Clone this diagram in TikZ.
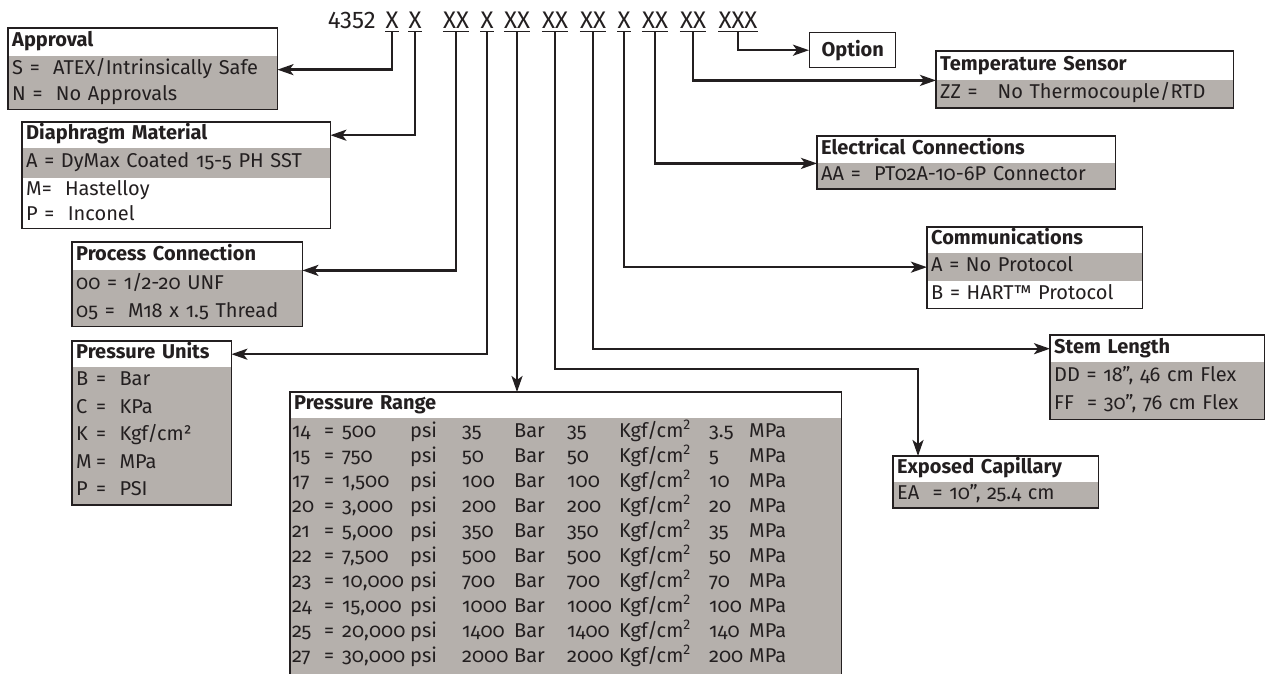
\documentclass[tikz,border=0pt]{standalone}
\usepackage{fontspec}
\setmainfont{Fira Sans}[Numbers=OldStyle]
\usetikzlibrary{arrows.meta,positioning,fit,calc}
\definecolor{ink}{HTML}{231F20}
\definecolor{rowgray}{HTML}{B5B0AC}
\newcommand{\bodyfont}{\fontsize{20pt}{24pt}\selectfont}
\newcommand{\codefont}{\fontsize{24pt}{28pt}\selectfont\addfontfeature{Numbers=Lining}}
\newcommand{\lsup}{{\addfontfeature{Numbers=Lining}\textsuperscript{2}}}
\tikzset{
  hdr/.style={fill=white, inner xsep=4pt, inner ysep=0pt, text width=#1, minimum height=26pt,
              align=left, font=\bfseries\bodyfont, text=ink, text height=14pt, text depth=4.5pt},
  grow/.style={hdr=#1, fill=rowgray, draw=rowgray, line width=0.5pt, font=\bodyfont},
  wrow/.style={hdr=#1, fill=white, font=\bodyfont},
  frame/.style={draw=ink, line width=1.4pt, inner sep=0pt, fit=#1},
  codef/.style={inner xsep=0pt, inner ysep=3pt, font=\codefont, text=ink, anchor=base},
  uline/.style={draw=ink, line width=1.2pt},
  arr/.style={-{Stealth[length=16pt, width=11pt, inset=4pt]}, line width=2.4pt, draw=ink},
}
\begin{document}
\begin{tikzpicture}[x=1pt, y=-1pt]
  \useasboundingbox (0,0) rectangle (1267,673);
  \node[codef, anchor=base east] (model) at (376,28) {4352};
  \node[codef] (c1) at (392,28) {X};
  \node[codef] (c2) at (415,28) {X};
  \node[codef] (c3) at (456,28) {XX};
  \node[codef] (c4) at (487,28) {X};
  \node[codef] (c5) at (517,28) {XX};
  \node[codef] (c6) at (555,28) {XX};
  \node[codef] (c7) at (593,28) {XX};
  \node[codef] (c8) at (624,28) {X};
  \node[codef] (c9) at (655,28) {XX};
  \node[codef] (c10) at (693,28) {XX};
  \node[codef] (c11) at (738,28) {XXX};
  \foreach \c in {c1,c2,c3,c4,c5,c6,c7,c8,c9,c10,c11}
    \draw[uline] (\c.south west) -- (\c.south east);

  \node[hdr=261pt, minimum height=28pt, anchor=north west] (aprH) at (8,28) {Approval};
  \node[grow=261pt, below=0pt of aprH] (aprS) {S =\ \ ATEX/Intrinsically Safe};
  \node[grow=261pt, below=0pt of aprS] (aprN) {N =\ \ No Approvals};
  \node[frame=(aprH)(aprN)] (approval) {};

  \node[hdr=300pt, anchor=north west] (diaH) at (22,122) {Diaphragm Material};
  \node[grow=300pt, minimum height=29pt, below=0pt of diaH] (diaA) {A = DyMax Coated 15-5 PH SST};
  \node[wrow=300pt, minimum height=25pt, below=0pt of diaA] (diaM) {M=\ \ Hastelloy};
  \node[wrow=300pt, minimum height=25pt, below=0pt of diaM] (diaP) {P =\ \ Inconel};
  \node[frame=(diaH)(diaP)] (diaphragm) {};

  \node[hdr=222pt, minimum height=28pt, anchor=north west] (proH) at (72,242) {Process Connection};
  \node[grow=222pt, minimum height=28pt, below=0pt of proH] (pro0) {00 = 1/2-20 UNF};
  \node[grow=222pt, minimum height=27pt, below=0pt of pro0] (pro5) {05 =\ \ M18 x 1.5 Thread};
  \node[frame=(proH)(pro5)] (process) {};

  \node[hdr=151pt, anchor=north west] (uniH) at (72,341) {Pressure Units};
  \node[grow=151pt, minimum height=27pt, below=0pt of uniH] (uniB) {\makebox[20pt][l]{B}=\ \ Bar};
  \node[grow=151pt, minimum height=27pt, below=0pt of uniB] (uniC) {\makebox[20pt][l]{C}=\ \ KPa};
  \node[grow=151pt, minimum height=27pt, below=0pt of uniC] (uniK) {\makebox[20pt][l]{K}=\ \ Kgf/cm²};
  \node[grow=151pt, minimum height=27pt, below=0pt of uniK] (uniM) {\makebox[20pt][l]{M}=\ \ MPa};
  \node[grow=151pt, minimum height=27pt, below=0pt of uniM] (uniP) {\makebox[20pt][l]{P}=\ \ PSI};
  \node[frame=(uniH)(uniP)] (units) {};

  \node[hdr=543pt, anchor=north west] (rngH) at (290,392) {Pressure Range};
  \node[grow=543pt, minimum height=262pt, below=0pt of rngH] (rngB) {};
  \node[frame=(rngH)(rngB)] (range) {};
  \foreach \rc/\rpsi/\rbar/\rmpa [count=\i] in {14/500/35/3.5, 15/750/50/5, 17/{1,500}/100/10,
      20/{3,000}/200/20, 21/{5,000}/350/35, 22/{7,500}/500/50, 23/{10,000}/700/70,
      24/{15,000}/1000/100, 25/{20,000}/1400/140, 27/{30,000}/2000/200}
    \node[anchor=base west, inner sep=0pt, font=\bodyfont, text=ink] (r\i) at (292,418+25*\i-6)
      {\makebox[32pt][l]{\rc}\makebox[18pt][l]{=}\makebox[68pt][l]{\rpsi}\makebox[52pt][l]{psi}%
       \makebox[52pt][l]{\rbar}\makebox[53pt][l]{Bar}\makebox[52pt][l]{\rbar}%
       \makebox[90pt][l]{Kgf/cm\lsup}\makebox[40pt][l]{\rmpa}MPa};

  \node[draw=ink, line width=1.4pt, fill=white, anchor=north west, minimum width=86pt,
        minimum height=35pt, inner sep=0pt, font=\bfseries\bodyfont, text=ink] (option) at (809,32) {Option};

  \node[hdr=289pt, minimum height=29pt, anchor=north west] (tmpH) at (936,51) {Temperature Sensor};
  \node[grow=289pt, minimum height=27pt, below=0pt of tmpH] (tmpZ) {ZZ =\ \ \ No Thermocouple/RTD};
  \node[frame=(tmpH)(tmpZ)] (temp) {};

  \node[hdr=290pt, minimum height=27pt, anchor=north west] (eleH) at (817,136) {Electrical Connections};
  \node[grow=290pt, minimum height=25pt, below=0pt of eleH] (eleA) {AA =\ \ PT02A-10-6P Connector};
  \node[frame=(eleH)(eleA)] (elec) {};

  \node[hdr=207pt, anchor=north west] (comH) at (927,227) {Communications};
  \node[grow=207pt, minimum height=27pt, below=0pt of comH] (comA) {A = No Protocol};
  \node[wrow=207pt, minimum height=27pt, below=0pt of comA] (comB) {B = HART™ Protocol};
  \node[frame=(comH)(comB)] (comms) {};

  \node[hdr=206pt, minimum height=27pt, anchor=north west] (stmH) at (1050,335) {Stem Length};
  \node[grow=206pt, minimum height=28pt, below=0pt of stmH] (stmD) {DD = 18", 46 cm Flex};
  \node[grow=206pt, minimum height=28pt, below=0pt of stmD] (stmF) {FF\ \ = 30", 76 cm Flex};
  \node[frame=(stmH)(stmF)] (stem) {};

  \node[hdr=197pt, anchor=north west] (capH) at (893,456) {Exposed Capillary};
  \node[grow=197pt, minimum height=25pt, below=0pt of capH] (capE) {EA\ \ = 10", 25.4 cm};
  \node[frame=(capH)(capE)] (capillary) {};

  \coordinate (capBend) at (0,369);
  \coordinate (capIn) at ($(capH.north west)+(25,0)$);
  \draw[arr] (c1.south) |- (aprS.east);
  \draw[arr] (c2.south) |- (diaH.east);
  \draw[arr] (c3.south) |- (proH.south east);
  \draw[arr] (c4.south) |- (uniH.east);
  \draw[arr] (c5.south) -- (c5.south |- rngH.north);
  \draw[arr] (c6.south) -- (c6.south |- capBend) -| (capIn);
  \draw[arr] (c7.south) |- (stmH.west);
  \draw[arr] (c8.south) |- (comA.west);
  \draw[arr] (c9.south) |- (eleH.south west);
  \draw[arr] (c10.south) |- (tmpH.south west);
  \draw[arr] (c11.south) |- (option.west);
\end{tikzpicture}
\end{document}
